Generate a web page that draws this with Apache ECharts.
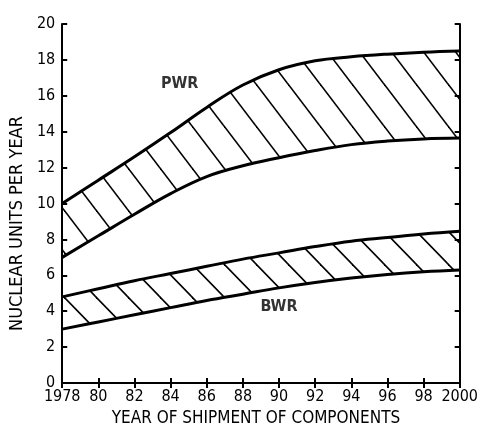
<!DOCTYPE html>
<html>
<head>
<meta charset="utf-8">
<script src="https://cdn.jsdelivr.net/npm/echarts@6/dist/echarts.min.js"></script>
<style>
html,body{margin:0;padding:0;background:#fff;}
#c{width:481px;height:432px;}
</style>
</head>
<body>
<div id="c"></div>
<script>
// ---- data ----
var years = ['1978', '1980', '1982', '1984', '1986', '1988', '1990', '1992', '1994', '1996', '1998', '2000'];
var pwrUpper = [10.0, 11.3, 12.6, 13.95, 15.35, 16.6, 17.45, 17.95, 18.17, 18.32, 18.43, 18.5];
var pwrLower = [7.0, 8.2, 9.4, 10.55, 11.5, 12.1, 12.55, 12.95, 13.28, 13.48, 13.6, 13.65];
var bwrUpper = [4.8, 5.25, 5.7, 6.1, 6.5, 6.9, 7.25, 7.6, 7.9, 8.1, 8.3, 8.45];
var bwrLower = [3.0, 3.4, 3.8, 4.2, 4.6, 4.95, 5.3, 5.6, 5.85, 6.05, 6.2, 6.3];
var xTickLabels = ['1978', '80', '82', '84', '86', '88', '90', '92', '94', '96', '98', '2000'];
var yTickLabels = ['0', '2', '4', '6', '8', '10', '12', '14', '16', '18', '20'];
var bandLabels = [{name: 'PWR', x: 1984.5, y: 16.65}, {name: 'BWR', x: 1990.0, y: 4.25}];

function hatch(w, h) {
  var c = document.createElement('canvas');
  c.width = w; c.height = h;
  var ctx = c.getContext('2d');
  ctx.strokeStyle = '#000';
  ctx.lineWidth = 1.6;
  for (var k = -1; k <= 1; k++) {
    ctx.beginPath();
    ctx.moveTo(-w + k * w, -h);
    ctx.lineTo(2 * w + k * w, 2 * h);
    ctx.stroke();
  }
  return c;
}

function diff(a, b) { return a.map(function (v, i) { return +(v - b[i]).toFixed(3); }); }

var FONT = "'DejaVu Sans Condensed', 'Liberation Sans Narrow', sans-serif";
var lineStyle = {color: '#000', width: 3};
var axisLineStyle = {show: true, lineStyle: {color: '#000', width: 2}};
var tickStyle = {show: true, inside: true, length: 5, lineStyle: {color: '#000', width: 2}};

var chart = echarts.init(document.getElementById('c'), null, {renderer: 'canvas'});
chart.setOption({
  animation: false,
  backgroundColor: '#fff',
  grid: {left: 60, right: 19, top: 24, bottom: 45},
  xAxis: [{
    type: 'category', data: years, boundaryGap: false,
    name: 'YEAR OF SHIPMENT OF COMPONENTS', nameLocation: 'middle', nameGap: 27,
    nameTextStyle: {fontFamily: FONT, fontSize: 17, color: '#000', padding: [0, 0, 0, -10]},
    axisLine: axisLineStyle, axisTick: tickStyle,
    axisLabel: {fontFamily: FONT, fontSize: 16, color: '#000', margin: 6, interval: 0,
      formatter: function (v, i) { return xTickLabels[i]; }},
    splitLine: {show: false}
  }, {
    type: 'category', data: years, boundaryGap: false, position: 'top',
    axisLine: axisLineStyle, axisTick: tickStyle,
    axisLabel: {show: false}, splitLine: {show: false}
  }, {
    type: 'value', min: 1978, max: 2000, show: false
  }],
  yAxis: [{
    type: 'value', min: 0, max: 20, interval: 2,
    name: 'NUCLEAR UNITS PER YEAR', nameLocation: 'middle', nameGap: 34,
    nameTextStyle: {fontFamily: FONT, fontSize: 18, color: '#000', padding: [0, 40, 0, 0]},
    axisLine: axisLineStyle, axisTick: tickStyle,
    axisLabel: {fontFamily: FONT, fontSize: 16, color: '#000', margin: 7,
      formatter: function (v) { return yTickLabels[Math.round(v / 2)]; }},
    splitLine: {show: false}
  }, {
    type: 'value', min: 0, max: 20, interval: 2, position: 'right',
    axisLine: axisLineStyle, axisTick: tickStyle,
    axisLabel: {show: false}, splitLine: {show: false}
  }],
  series: [
    {type: 'line', stack: 'pwr', smooth: 0.4, symbol: 'none', lineStyle: lineStyle,
      data: pwrLower},
    {type: 'line', stack: 'pwr', smooth: 0.4, symbol: 'none', lineStyle: lineStyle,
      areaStyle: {color: {image: hatch(32, 42), repeat: 'repeat'}, opacity: 1},
      data: diff(pwrUpper, pwrLower)},
    {type: 'line', stack: 'bwr', smooth: 0.4, symbol: 'none', lineStyle: lineStyle,
      data: bwrLower},
    {type: 'line', stack: 'bwr', smooth: 0.4, symbol: 'none', lineStyle: lineStyle,
      areaStyle: {color: {image: hatch(32, 33), repeat: 'repeat'}, opacity: 1},
      data: diff(bwrUpper, bwrLower)},
    {type: 'scatter', xAxisIndex: 2, symbolSize: 0, silent: true,
      data: bandLabels.map(function (d) { return {name: d.name, value: [d.x, d.y]}; }),
      label: {show: true, position: 'inside', formatter: '{b}', fontFamily: FONT,
        fontSize: 16, fontWeight: 'bold', color: '#000'}}
  ]
});
</script>
</body>
</html>
